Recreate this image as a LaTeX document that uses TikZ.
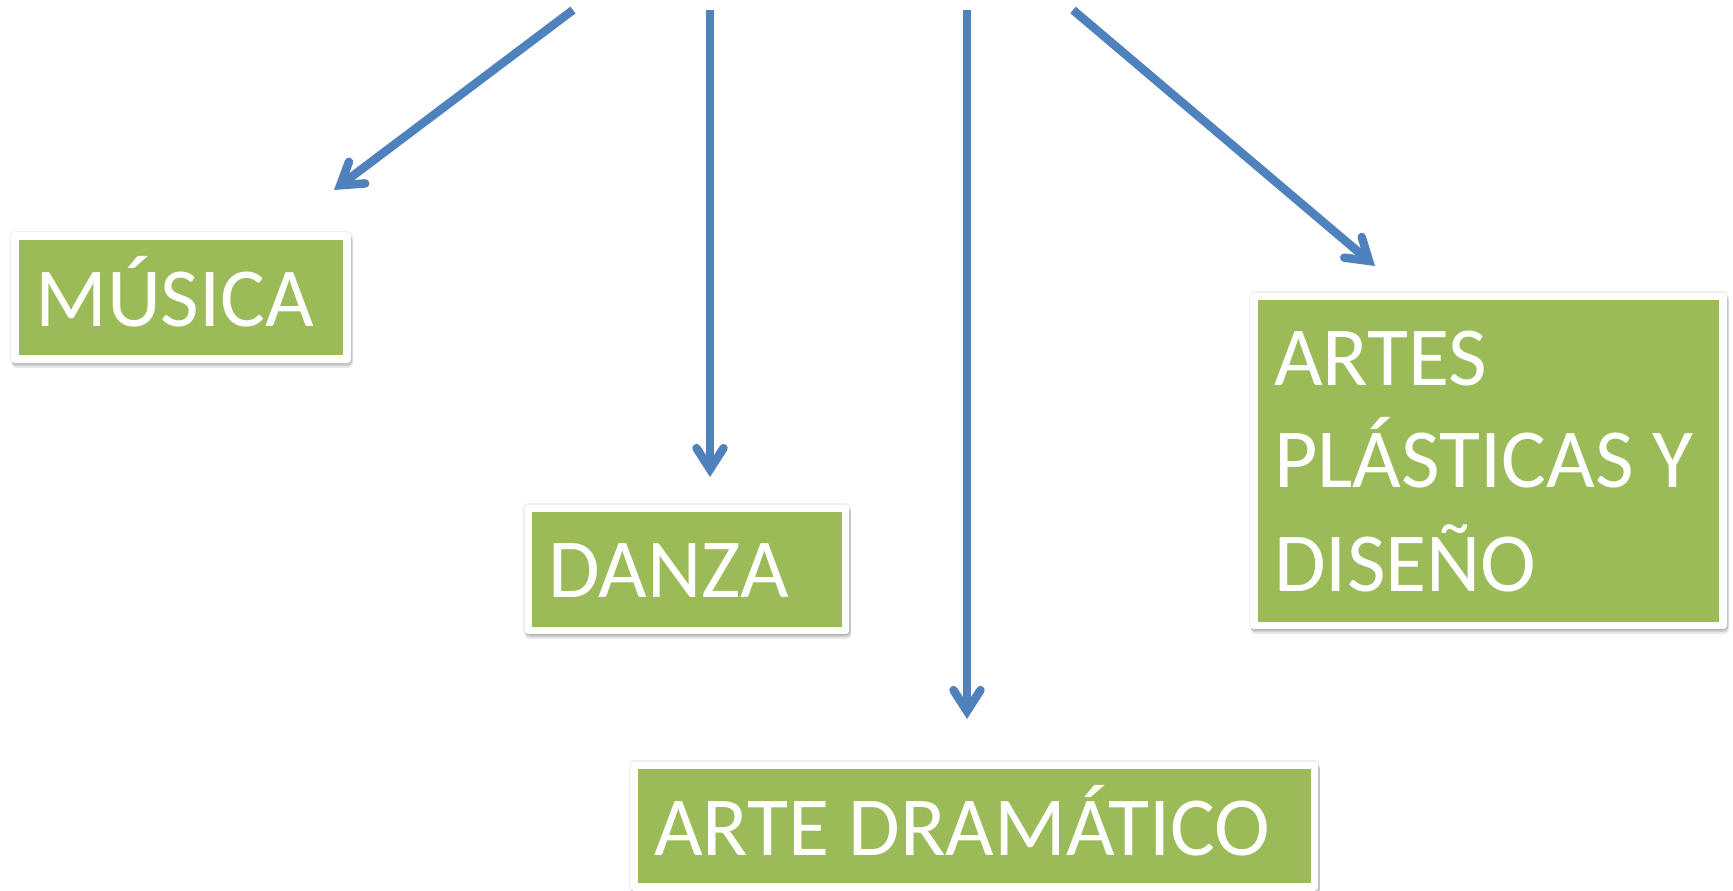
\documentclass[tikz,border=0pt]{standalone}
\usepackage{fontspec}
\setmainfont{Carlito}
\usetikzlibrary{arrows.meta}
\definecolor{boxgreen}{HTML}{9BBB59}
\definecolor{arrowblue}{HTML}{4F81BD}
\tikzset{
  gbox/.style={draw=white, fill=boxgreen, line width=7.5pt, line join=round,
    preaction={draw=black, fill=black, opacity=0.06, line width=11pt, line join=round},
    preaction={draw=black, fill=black, opacity=0.09, line width=9pt, line join=round,
      transform canvas={xshift=1pt, yshift=-4pt}},
    preaction={draw=black, fill=black, opacity=0.1, line width=8pt, line join=round,
      transform canvas={xshift=1pt, yshift=-2.5pt}}},
  lbl/.style={anchor=base west, inner sep=0pt, text=white,
    font=\fontsize{84}{102}\selectfont},
  conn/.style={draw=arrowblue, line width=8.5pt, line cap=butt,
    -{Straight Barb[length=21pt, width=27pt, line cap=round, line join=miter]},
    preaction={draw=black, opacity=0.12, transform canvas={xshift=1.5pt, yshift=-3pt}}}
}
\begin{document}
\begin{tikzpicture}[x=1pt, y=-1pt]
  \useasboundingbox (0,0) rectangle (1733,891);
  % boxes
  \path[gbox] (15,236) rectangle (347,359);
  \node[inner sep=0pt, minimum width=332pt, minimum height=123pt] (musica) at (181,297.5) {};
  \path[gbox] (528.5,508.5) rectangle (845.5,630.5);
  \node[inner sep=0pt, minimum width=317pt, minimum height=122pt] (danza) at (687,569.5) {};
  \path[gbox] (634,765.5) rectangle (1314.5,887);
  \node[inner sep=0pt, minimum width=680pt, minimum height=121pt] (drama) at (974,826) {};
  \path[gbox] (1254,296.5) rectangle (1723,625.5);
  \node[inner sep=0pt, minimum width=469pt, minimum height=329pt] (plast) at (1488.5,461) {};
  % labels
  \node[lbl] (tmusica) at (35,326) {MÚSICA};
  \node[lbl] (tdanza) at (548,597) {DANZA};
  \node[lbl] (tdrama) at (654,855) {ARTE DRAMÁTICO};
  \node[lbl] (tplast1) at (1274,385) {ARTES};
  \node[lbl] (tplast2) at (1274,487) {PLÁSTICAS Y};
  \node[lbl] (tplast3) at (1274,591) {DISEÑO};
  % connector ends
  \coordinate (s1) at (573,10);
  \coordinate (e1) at (334,190);
  \coordinate (s2) at (710,10);
  \coordinate (e2) at (710,477);
  \coordinate (s3) at (967,10);
  \coordinate (e3) at (967,719);
  \coordinate (s4) at (1073,10);
  \coordinate (e4) at (1375,266);
  \draw[conn] (s1) -- (e1);
  \draw[conn] (s2) -- (e2);
  \draw[conn] (s3) -- (e3);
  \draw[conn] (s4) -- (e4);
\end{tikzpicture}
\end{document}
